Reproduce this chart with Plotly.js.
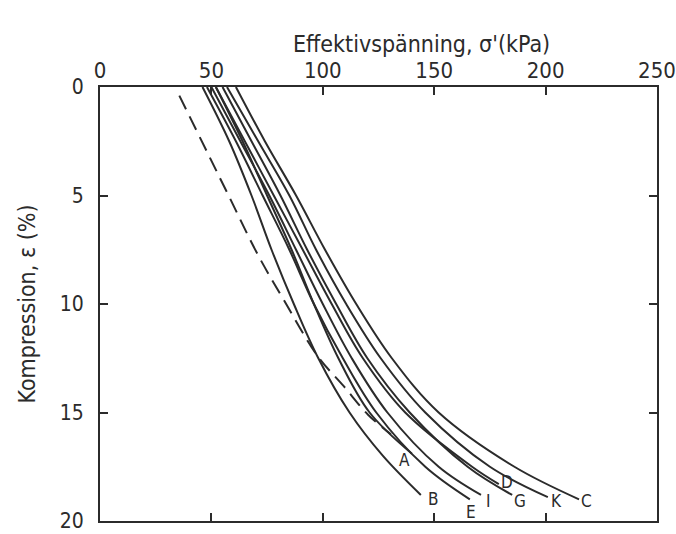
<!DOCTYPE html>
<html>
<head>
<meta charset="utf-8">
<script src="https://cdn.plot.ly/plotly-3.0.1.min.js"></script>
<style>html,body{margin:0;padding:0;background:#fff;}#chart{width:676px;height:534px;}</style>
</head>
<body>
<div id="chart"></div>
<script>
// Effective stress (kPa) read at each compression level (%) for each curve
const curveNames = ["A", "B", "C", "D", "E", "G", "I", "K"];
const strainA = [0, 2.5, 5, 7.5, 10, 12.5, 15, 16.9];
const stressA = [52, 64, 75, 86, 96, 107, 121, 140];
const strainB = [0, 2.5, 5, 7.5, 10, 12.5, 15, 17, 18.8];
const stressB = [46, 58, 68, 77, 87, 98, 112, 127, 144];
const strainC = [0, 2.5, 5, 7.5, 10, 12.5, 15, 17.5, 19];
const stressC = [61, 74, 88, 101, 115, 131, 152, 186, 215];
const strainD = [0, 2.5, 5, 7.5, 10, 12.5, 15, 17.5, 18.3];
const stressD = [52, 65, 78, 91, 104, 118, 137, 167, 179];
const strainE = [0, 2.5, 5, 7.5, 10, 12.5, 15, 17.5, 19];
const stressE = [48, 61, 73, 85, 96, 109, 124, 146, 166];
const strainG = [0, 2.5, 5, 7.5, 10, 12.5, 15, 17.5, 18.8];
const stressG = [55, 68, 81, 93, 106, 120, 139, 165, 185];
const strainI = [0, 2.5, 5, 7.5, 10, 12.5, 15, 17.5, 18.8];
const stressI = [50, 63, 76, 88, 100, 113, 129, 152, 171];
const strainK = [0, 2.5, 5, 7.5, 10, 12.5, 15, 17.5, 18.9];
const stressK = [57, 71, 85, 97, 110.5, 126, 146, 175, 201];
// dashed reference curve
const strainDashed = [0.4, 5, 7.7, 9.8, 12.4, 13.8, 15.1, 16.0];
const stressDashed = [35.6, 57.7, 70.7, 82.4, 97.7, 109.5, 120.3, 130.6];
// curve labels
const labelText = ["A", "B", "C", "D", "E", "I", "G", "K"];
const labelStress = [136.5, 149.5, 218.5, 182.5, 166.5, 174.5, 188.5, 205];
const labelStrain = [17.2, 19.0, 19.1, 18.2, 19.6, 19.1, 19.1, 19.1];

const xTicks = [0, 50, 100, 150, 200, 250];
const yTicks = [0, 5, 10, 15, 20];

const FONT = '"DejaVu Sans Condensed", "Liberation Sans Narrow", sans-serif';
const INK = '#2b2b2b';

const series = {A:[strainA,stressA],B:[strainB,stressB],C:[strainC,stressC],D:[strainD,stressD],
  E:[strainE,stressE],G:[strainG,stressG],I:[strainI,stressI],K:[strainK,stressK]};

const traces = curveNames.map(n => ({
  type: 'scatter', mode: 'lines', name: n,
  x: series[n][1], y: series[n][0],
  line: {color: INK, width: 2, shape: 'spline', smoothing: 1},
  hoverinfo: 'skip'
}));
traces.push({
  type: 'scatter', mode: 'lines', name: 'dashed',
  x: stressDashed, y: strainDashed,
  line: {color: INK, width: 2, dash: '15px,8px', shape: 'spline', smoothing: 1},
  hoverinfo: 'skip'
});

const labelAnnotations = labelText.map((t, i) => ({
  text: t, x: labelStress[i], y: labelStrain[i], xref: 'x', yref: 'y',
  showarrow: false, xanchor: 'center', yanchor: 'middle',
  font: {family: FONT, size: 17, color: INK}
}));

const layout = {
  width: 676, height: 534,
  margin: {l: 100, r: 19, t: 87, b: 13, pad: 0},
  paper_bgcolor: '#ffffff', plot_bgcolor: '#ffffff',
  showlegend: false,
  font: {family: FONT, color: INK, size: 22},
  xaxis: {
    side: 'top', range: [0, 250], tickvals: xTicks, ticktext: xTicks.map(String),
    ticks: 'inside', ticklen: 8, tickwidth: 2, tickcolor: INK,
    showline: true, linewidth: 2, linecolor: INK, mirror: 'ticks',
    showgrid: false, zeroline: false, ticklabelstandoff: -2,
    ticklabeloverflow: 'allow',
    tickfont: {family: FONT, size: 22, color: INK}
  },
  yaxis: {
    range: [20, 0], tickvals: yTicks, ticktext: yTicks.map(String),
    ticks: 'inside', ticklen: 8, tickwidth: 2, tickcolor: INK,
    showline: true, linewidth: 2, linecolor: INK, mirror: 'ticks',
    showgrid: false, zeroline: false, ticklabelstandoff: 10,
    ticklabeloverflow: 'allow',
    tickfont: {family: FONT, size: 21, color: INK},
    title: {text: 'Kompression, ε (%)', font: {family: FONT, size: 23, color: INK}, standoff: 18}
  },
  annotations: [{
    text: "Effektivspänning, σ'(kPa)", xref: 'paper', yref: 'paper',
    x: 0.578, y: 1, yshift: 43, xanchor: 'center', yanchor: 'middle', showarrow: false,
    font: {family: FONT, size: 23, color: INK}
  }].concat(labelAnnotations)
};

Plotly.newPlot('chart', traces, layout, {displayModeBar: false, staticPlot: true});
</script>
</body>
</html>
